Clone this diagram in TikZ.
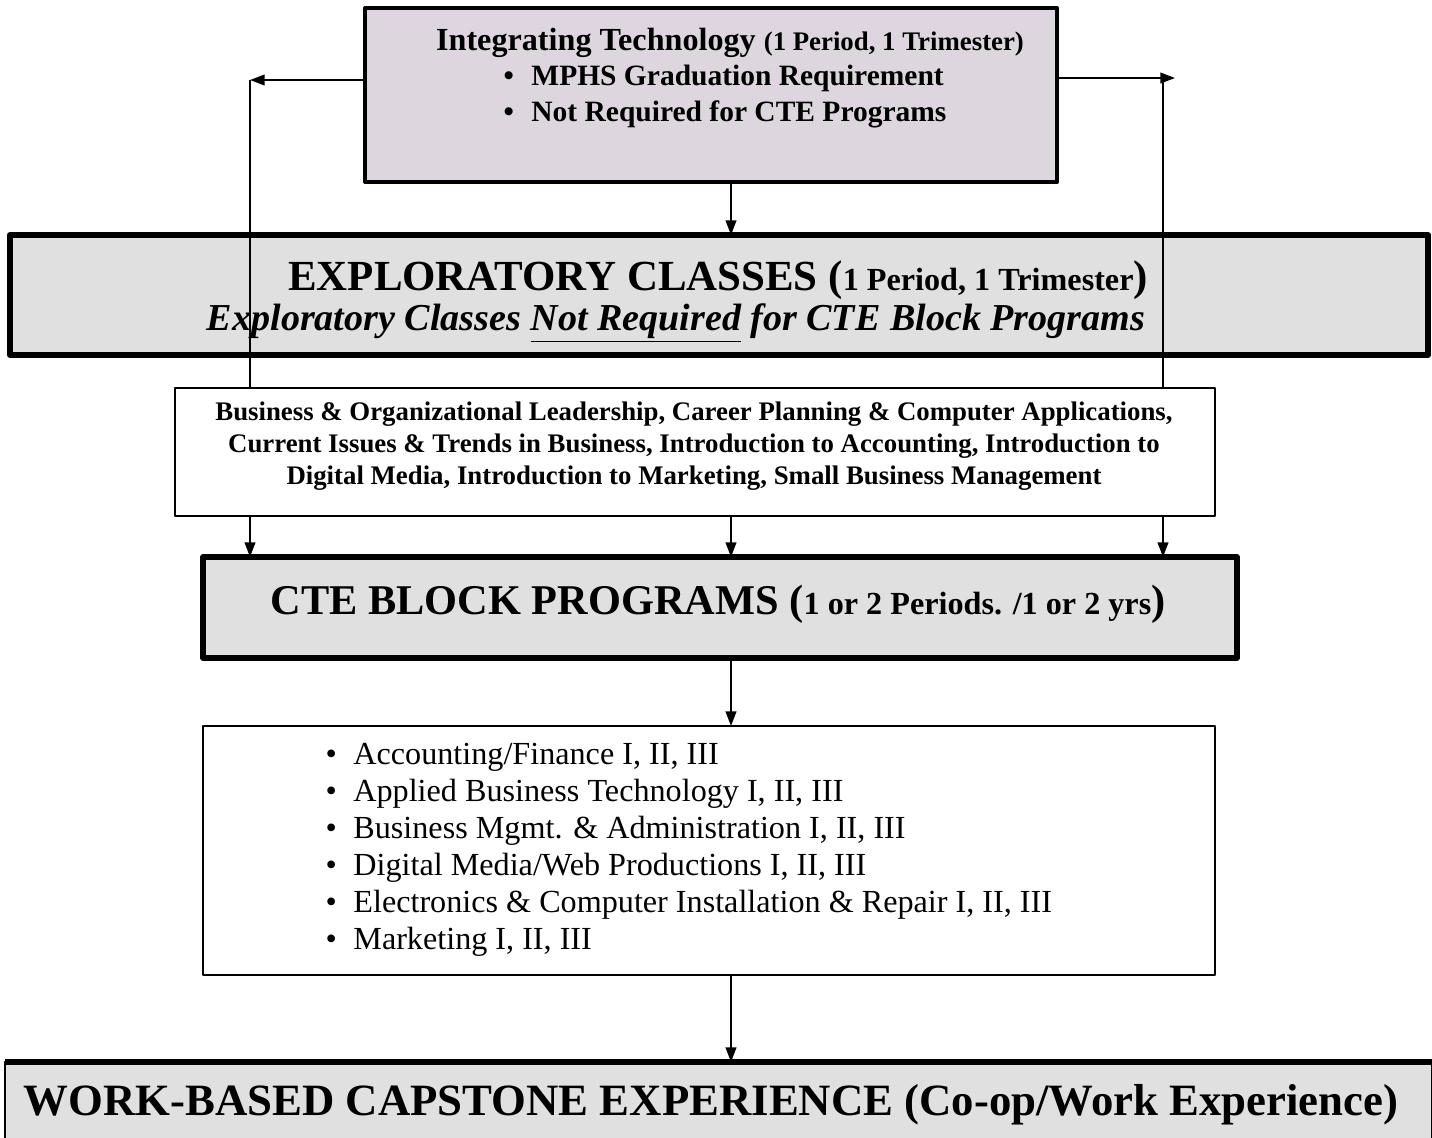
\documentclass[tikz,border=0pt]{standalone}
\usepackage{fontspec}
\setmainfont{Liberation Serif}
\usetikzlibrary{arrows.meta}
\definecolor{techfill}{RGB}{221,214,223}
\definecolor{boxgray}{RGB}{224,224,224}
\begin{document}
\begin{tikzpicture}[x=0.373pt,y=-0.373pt,line join=round,
	box/.style={draw,inner sep=0pt,outer sep=0pt},
	txt/.style={inner sep=0pt,anchor=base},
	arr/.style={-{Triangle[length=5.5pt,width=4pt]},line width=0.7pt},
	]
	\def\u{0.373pt}%1 pixel
	\def\ax{731}%cột mũi tên giữa
	\useasboundingbox (0,0) rectangle (1432,1137);
	%========các khung
	\node[box,fill=techfill,line width=1.5pt,minimum width=692*\u,minimum height=174*\u] (tech) at (711,95) {};
	\node[box,fill=boxgray,line width=2.2pt,minimum width=1418*\u,minimum height=120*\u] (explor) at (719,295) {};
	\node[box,fill=boxgray,line width=1.9pt,minimum width=1034*\u,minimum height=101*\u] (cte) at (720,607.5) {};
	\node[box,fill=white,line width=0.5pt,minimum width=1012*\u,minimum height=249*\u] (prog) at (709,850.5) {};
	\node[box,fill=boxgray,line width=1.1pt,minimum width=1427*\u,minimum height=96*\u] (work) at (718.5,1110) {};
	\draw[line width=2.2pt] (work.north west) -- (work.north east);
	%========đường nối
	\path (250,80) coordinate (lturn)
	(1163,78) coordinate (rturn)
	(1175,78) coordinate (rtip)
	(\ax,0) coordinate (axis);
	\draw[arr] (tech.west|-lturn) -- (lturn);
	\draw[arr] (tech.east|-rtip) -- (rtip);
	\draw[line width=0.7pt] (lturn) -- (lturn|-explor.south) -- ++(0,40)
	(rturn) -- (rturn|-explor.south) -- ++(0,40);
	\draw[arr] (axis|-tech.south) -- (axis|-explor.north);
	\node[box,fill=white,line width=0.8pt,minimum width=1040*\u,minimum height=128*\u] (busi) at (695,452) {};
	\draw[arr] (lturn|-busi.south) -- (lturn|-cte.north);
	\draw[arr] (rturn|-busi.south) -- (rturn|-cte.north);
	\draw[arr] (axis|-busi.south) -- (axis|-cte.north);
	\draw[arr] (axis|-cte.south) -- (axis|-prog.north);
	\draw[arr] (axis|-prog.south) -- (axis|-work.north);
	%========chữ
	\node[txt] (techtitle) at (730,50) {\bfseries\fontsize{12}{14}\selectfont Integrating Technology \fontsize{10}{12}\selectfont(1 Period, 1 Trimester)};
	\node[txt,anchor=base west] (techa) at (503,85) {\bfseries\fontsize{11}{13}\selectfont\makebox[10.4pt][l]{\textbullet}MPHS Graduation Requirement};
	\node[txt,anchor=base west] (techb) at (503,121) {\bfseries\fontsize{11}{13}\selectfont\makebox[10.4pt][l]{\textbullet}Not Required for CTE Programs};
	\node[txt] (explortitle) at (718,290) {\bfseries\fontsize{16}{19}\selectfont EXPLORATORY CLASSES (\fontsize{12}{14}\selectfont1 Period, 1 Trimester\fontsize{16}{19}\selectfont)};
	\node[txt] (explornote) at (676,330) {\bfseries\itshape\fontsize{14.2}{17}\selectfont Exploratory Classes \underline{Not Required} for CTE Block Programs};
	\node[inner sep=0pt,align=center,font=\bfseries\fontsize{10}{11.9}\selectfont] (busitext) at (694,446)
	{Business \& Organizational Leadership, Career Planning \& Computer Applications,\\
		Current Issues \& Trends in Business, Introduction to Accounting, Introduction to\\
		Digital Media, Introduction to Marketing, Small Business Management};
	\node[txt] (ctetitle) at (718,614) {\bfseries\fontsize{15.8}{19}\selectfont CTE BLOCK PROGRAMS (\fontsize{12}{14}\selectfont1 or 2 Periods. /1 or 2 yrs\fontsize{15.8}{19}\selectfont)};
	\foreach \t [count=\i from 0] in {{Accounting/Finance I, II, III},
		{Applied Business Technology I, II, III},
		{Business Mgmt. \& Administration I, II, III},
		{Digital Media/Web Productions I, II, III},
		{Electronics \& Computer Installation \& Repair I, II, III},
		{Marketing I, II, III}}
	\node[txt,anchor=base west] (progline\i) at (325,764+37*\i) {\fontsize{12}{14}\selectfont\makebox[10.4pt][l]{\textbullet}\t};
	\node[txt] (worktitle) at (711,1115) {\bfseries\fontsize{16.7}{20}\selectfont WORK-BASED CAPSTONE EXPERIENCE (Co-op/Work Experience)};
\end{tikzpicture}
\end{document}
